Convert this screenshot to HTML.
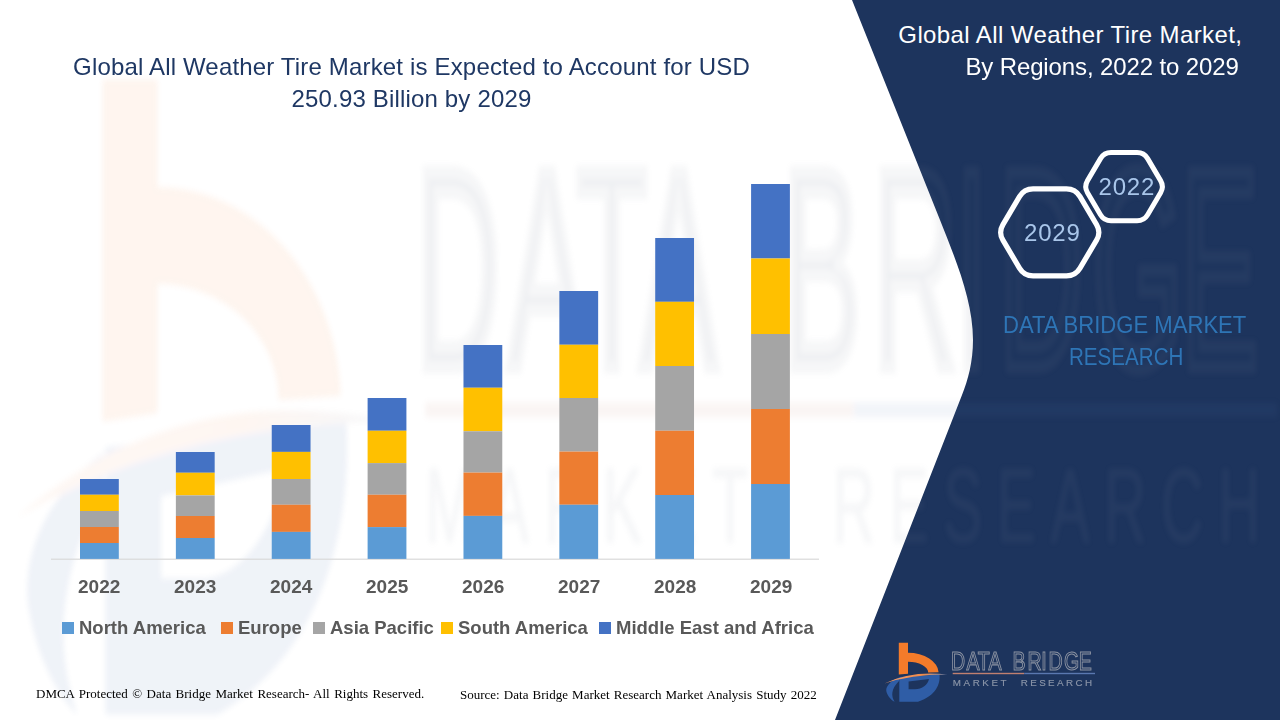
<!DOCTYPE html>
<html>
<head>
<meta charset="utf-8">
<style>
html,body{margin:0;padding:0;}
body{width:1280px;height:720px;overflow:hidden;position:relative;background:#ffffff;font-family:"Liberation Sans",sans-serif;}
svg{position:absolute;left:0;top:0;}
.t{position:absolute;white-space:nowrap;line-height:1;}
.title{color:#1f3864;font-size:24px;letter-spacing:0.17px;}
.rt{color:#ffffff;font-size:24px;letter-spacing:0.4px;}
.yr{color:#595959;font-size:19px;font-weight:bold;}
.lg{color:#595959;font-size:18.5px;font-weight:bold;}
.sw{position:absolute;width:12px;height:12px;}
.ft{font-family:"Liberation Serif",serif;font-size:13px;color:#000;}
.hx{color:#a9c6ea;font-size:24px;letter-spacing:0.8px;}
.db{color:#2e75b6;font-size:23px;}
</style>
</head>
<body>
<svg width="1280" height="720" viewBox="0 0 1280 720">
  <defs>

    <linearGradient id="sw" x1="884" y1="0" x2="948" y2="0" gradientUnits="userSpaceOnUse"><stop offset="0" stop-color="#f4a070"/><stop offset="0.6" stop-color="#f08a4a"/><stop offset="1" stop-color="#8a9cc0"/></linearGradient>
    <filter id="wblur" x="-5%" y="-5%" width="110%" height="110%"><feGaussianBlur stdDeviation="0.45 0.3"/></filter>
  </defs>
  <!-- dark blue panel -->
  <path d="M852,0 L940,220 C955,258 973,300 973,340 C973,362 968,380 962,395 L835,720 L1280,720 L1280,0 Z" fill="#1d345d"/>
  <g opacity="0.075" filter="url(#wblur)" transform="matrix(5.99,0,0,10.76,-5281.4,-6837)">
    <use href="#logo"/>
  </g>
  <!-- axis line -->
  <rect x="51" y="558.6" width="768" height="1.2" fill="#d9d9d9"/>
  <!-- bars -->
  <g id="bars">
    <rect x="80.00" y="479.00" width="38.8" height="15.75" fill="#4472c4"/>
    <rect x="80.00" y="494.75" width="38.8" height="16.25" fill="#ffc000"/>
    <rect x="80.00" y="511.00" width="38.8" height="16.00" fill="#a5a5a5"/>
    <rect x="80.00" y="527.00" width="38.8" height="16.00" fill="#ed7d31"/>
    <rect x="80.00" y="543.00" width="38.8" height="15.90" fill="#5b9bd5"/>
    <rect x="175.87" y="452.00" width="38.8" height="20.75" fill="#4472c4"/>
    <rect x="175.87" y="472.75" width="38.8" height="22.65" fill="#ffc000"/>
    <rect x="175.87" y="495.40" width="38.8" height="20.60" fill="#a5a5a5"/>
    <rect x="175.87" y="516.00" width="38.8" height="22.00" fill="#ed7d31"/>
    <rect x="175.87" y="538.00" width="38.8" height="20.90" fill="#5b9bd5"/>
    <rect x="271.74" y="425.00" width="38.8" height="26.90" fill="#4472c4"/>
    <rect x="271.74" y="451.90" width="38.8" height="27.10" fill="#ffc000"/>
    <rect x="271.74" y="479.00" width="38.8" height="25.75" fill="#a5a5a5"/>
    <rect x="271.74" y="504.75" width="38.8" height="27.15" fill="#ed7d31"/>
    <rect x="271.74" y="531.90" width="38.8" height="27.00" fill="#5b9bd5"/>
    <rect x="367.61" y="398.00" width="38.8" height="32.75" fill="#4472c4"/>
    <rect x="367.61" y="430.75" width="38.8" height="32.35" fill="#ffc000"/>
    <rect x="367.61" y="463.10" width="38.8" height="31.65" fill="#a5a5a5"/>
    <rect x="367.61" y="494.75" width="38.8" height="32.35" fill="#ed7d31"/>
    <rect x="367.61" y="527.10" width="38.8" height="31.80" fill="#5b9bd5"/>
    <rect x="463.48" y="345.00" width="38.8" height="42.75" fill="#4472c4"/>
    <rect x="463.48" y="387.75" width="38.8" height="43.50" fill="#ffc000"/>
    <rect x="463.48" y="431.25" width="38.8" height="41.35" fill="#a5a5a5"/>
    <rect x="463.48" y="472.60" width="38.8" height="43.30" fill="#ed7d31"/>
    <rect x="463.48" y="515.90" width="38.8" height="43.00" fill="#5b9bd5"/>
    <rect x="559.35" y="291.00" width="38.8" height="53.75" fill="#4472c4"/>
    <rect x="559.35" y="344.75" width="38.8" height="53.25" fill="#ffc000"/>
    <rect x="559.35" y="398.00" width="38.8" height="53.60" fill="#a5a5a5"/>
    <rect x="559.35" y="451.60" width="38.8" height="53.15" fill="#ed7d31"/>
    <rect x="559.35" y="504.75" width="38.8" height="54.15" fill="#5b9bd5"/>
    <rect x="655.22" y="238.00" width="38.8" height="63.80" fill="#4472c4"/>
    <rect x="655.22" y="301.80" width="38.8" height="64.20" fill="#ffc000"/>
    <rect x="655.22" y="366.00" width="38.8" height="64.75" fill="#a5a5a5"/>
    <rect x="655.22" y="430.75" width="38.8" height="64.25" fill="#ed7d31"/>
    <rect x="655.22" y="495.00" width="38.8" height="63.90" fill="#5b9bd5"/>
    <rect x="751.09" y="184.00" width="38.8" height="74.50" fill="#4472c4"/>
    <rect x="751.09" y="258.50" width="38.8" height="75.50" fill="#ffc000"/>
    <rect x="751.09" y="334.00" width="38.8" height="75.00" fill="#a5a5a5"/>
    <rect x="751.09" y="409.00" width="38.8" height="75.00" fill="#ed7d31"/>
    <rect x="751.09" y="484.00" width="38.8" height="74.90" fill="#5b9bd5"/>
  </g>
  <!-- hexagons -->
  <path d="M1002.93,224.65 L1019.47,196.65 Q1024.05,188.90 1033.05,188.90 L1066.45,188.90 Q1075.45,188.90 1080.03,196.65 L1096.57,224.65 Q1101.15,232.40 1096.57,240.15 L1080.03,268.15 Q1075.45,275.90 1066.45,275.90 L1033.05,275.90 Q1024.05,275.90 1019.47,268.15 L1002.93,240.15 Q998.35,232.40 1002.93,224.65 Z" fill="none" stroke="#ffffff" stroke-width="5.2"/>
  <path d="M1087.50,180.62 L1100.45,158.63 Q1104.00,152.60 1111.00,152.60 L1137.10,152.60 Q1144.10,152.60 1147.65,158.63 L1160.60,180.62 Q1164.15,186.65 1160.60,192.68 L1147.65,214.67 Q1144.10,220.70 1137.10,220.70 L1111.00,220.70 Q1104.00,220.70 1100.45,214.67 L1087.50,192.68 Q1083.95,186.65 1087.50,180.62 Z" fill="none" stroke="#ffffff" stroke-width="5"/>

    <g id="logo">
      <path d="M898.8,642.8 H908 V652.8 A30.6 20.2 0 0 1 938.6,672.2 L928.2,672.6 A20.2 10.8 0 0 0 908,661.8 V673.8 L898.8,674.6 Z" fill="#f47b2a"/>
      <path d="M899.3,677 L939.5,674.6 C940.5,684 936,696 918,701.8 L899.3,701.8 Z M908.6,681.5 L929,679 C928,684.5 922,689.2 915,689.2 L908.6,689.2 Z" fill="#2f5da6" fill-rule="evenodd"/>
      <path d="M899,677.5 C890,681 885,687 886.5,692 C888,697 892,700.5 894.6,701.8 C891,696 891,689 899,681 Z" fill="#2f5da6"/>
      <path d="M884.5,683.5 Q912,670.3 947.5,674.6 Q912,674.4 884.5,683.5 Z" fill="url(#sw)"/>
      <text x="1285.26 1306.03 1321.44 1335.76 1368.10 1388.37 1407.02 1416.75 1437.86 1457.83" y="669.6" transform="scale(0.74 1)" font-family="Liberation Sans" font-size="26.5" fill="#1d345d" stroke="#8d94a3" stroke-width="1.1">DATABRIDGE</text>
      <rect x="952.7" y="672.8" width="71.5" height="1.4" fill="#c08070"/>
      <rect x="1024.2" y="672.8" width="70.8" height="1.4" fill="#5a78b0"/>
      <text x="952.7" y="685.8" font-family="Liberation Sans" font-size="9.8" textLength="53.9" lengthAdjust="spacing" fill="#8b95a8" stroke="#8b95a8" stroke-width="0.15">MARKET</text>
      <text x="1020.7" y="685.8" font-family="Liberation Sans" font-size="9.8" textLength="71.4" lengthAdjust="spacing" fill="#8b95a8" stroke="#8b95a8" stroke-width="0.15">RESEARCH</text>
    </g>
</svg>

<div class="t title" style="left:0;width:823px;text-align:center;top:54.7px;">Global All Weather Tire Market is Expected to Account for USD</div>
<div class="t title" style="left:0;width:823px;text-align:center;top:86.6px;">250.93 Billion by 2029</div>

<div class="t rt" style="right:37.6px;top:22.7px;">Global All Weather Tire Market,</div>
<div class="t rt" style="right:41.3px;top:55.2px;letter-spacing:-0.12px;">By Regions, 2022 to 2029</div>

<div class="t hx" style="left:1024px;top:220.7px;">2029</div>
<div class="t hx" style="left:1098.5px;top:174.9px;">2022</div>

<div class="t db" style="left:1003px;top:314.4px;transform:scaleX(0.96);transform-origin:0 0;">DATA BRIDGE MARKET</div>
<div class="t db" style="left:1069px;top:346.2px;transform:scaleX(0.895);transform-origin:0 0;">RESEARCH</div>

<div class="t yr" style="left:78px;top:577px;">2022</div>
<div class="t yr" style="left:174px;top:577px;">2023</div>
<div class="t yr" style="left:270px;top:577px;">2024</div>
<div class="t yr" style="left:366px;top:577px;">2025</div>
<div class="t yr" style="left:462px;top:577px;">2026</div>
<div class="t yr" style="left:558px;top:577px;">2027</div>
<div class="t yr" style="left:654px;top:577px;">2028</div>
<div class="t yr" style="left:750px;top:577px;">2029</div>

<div class="sw" style="left:62px;top:622px;background:#5b9bd5"></div>
<div class="t lg" style="left:79px;top:619px;">North America</div>
<div class="sw" style="left:221px;top:622px;background:#ed7d31"></div>
<div class="t lg" style="left:238px;top:619px;">Europe</div>
<div class="sw" style="left:313px;top:622px;background:#a5a5a5"></div>
<div class="t lg" style="left:330px;top:619px;">Asia Pacific</div>
<div class="sw" style="left:441px;top:622px;background:#ffc000"></div>
<div class="t lg" style="left:458px;top:619px;">South America</div>
<div class="sw" style="left:599px;top:622px;background:#4472c4"></div>
<div class="t lg" style="left:616px;top:619px;">Middle East and Africa</div>

<div class="t ft" style="left:36px;top:686.8px;word-spacing:1.2px;">DMCA Protected © Data Bridge Market Research- All Rights Reserved.</div>
<div class="t ft" style="left:460px;top:687.7px;word-spacing:0.9px;">Source: Data Bridge Market Research Market Analysis Study 2022</div>
</body>
</html>
